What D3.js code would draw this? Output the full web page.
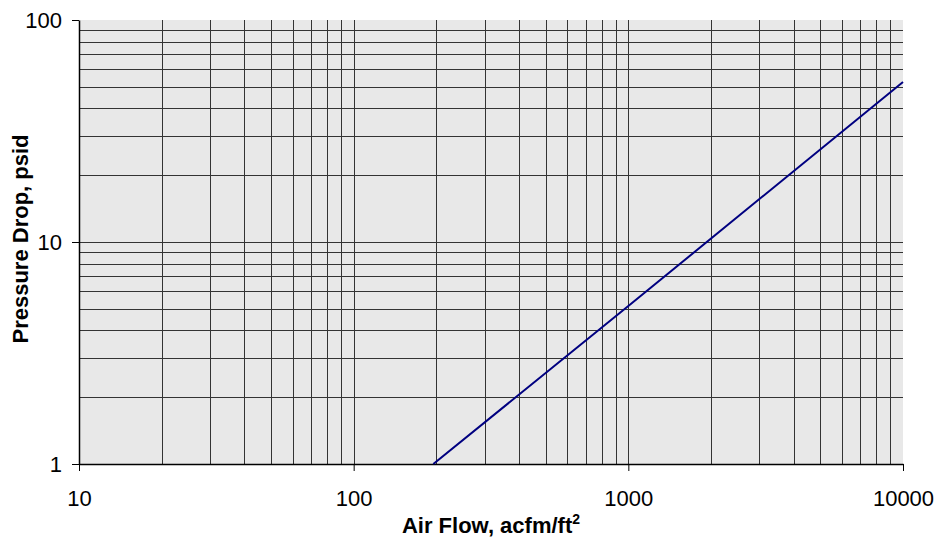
<!DOCTYPE html>
<html>
<head>
<meta charset="utf-8">
<script src="https://cdn.jsdelivr.net/npm/d3@7"></script>
<style>
  body { margin: 0; background: #fff; }
  text { font-family: "Liberation Sans", Arial, sans-serif; }
</style>
</head>
<body>
<svg width="936" height="538"></svg>
<script>
  // air flow (acfm/ft2) vs pressure drop (psid)
  const flowValues = [195, 1000, 10000];
  const dropValues = [1, 5.15, 52.6];
  const xTicks = [10, 100, 1000, 10000];
  const yTicks = [1, 10, 100];

  const data = flowValues.map((f, i) => ({ flow: f, drop: dropValues[i] }));

  const svg = d3.select('svg');
  const margin = { top: 20, right: 33, bottom: 74, left: 79 };
  const width = +svg.attr('width');
  const height = +svg.attr('height');
  const innerWidth = width - margin.left - margin.right;
  const innerHeight = height - margin.top - margin.bottom;

  const xScale = d3.scaleLog().domain([10, 10000]).range([0, innerWidth]);
  const yScale = d3.scaleLog().domain([1, 100]).range([innerHeight, 0]);

  const g = svg.append('g')
    .attr('transform', `translate(${margin.left},${margin.top})`);

  g.append('rect')
    .attr('width', innerWidth)
    .attr('height', innerHeight)
    .attr('fill', '#e8e8e8');

  // grid lines at every 1..9 step of each decade
  const xGrid = xScale.ticks().filter(d => d > 10 && d < 10000);
  const yGrid = yScale.ticks().filter(d => d > 1 && d < 100);

  g.selectAll('.vgrid').data(xGrid)
    .enter().append('line')
      .attr('class', 'vgrid')
      .attr('x1', d => Math.round(xScale(d)) + 0.5)
      .attr('x2', d => Math.round(xScale(d)) + 0.5)
      .attr('y1', 0)
      .attr('y2', innerHeight)
      .attr('stroke', '#333')
      .attr('stroke-width', 1);

  g.selectAll('.hgrid').data(yGrid)
    .enter().append('line')
      .attr('class', 'hgrid')
      .attr('y1', d => Math.round(yScale(d)) + 0.5)
      .attr('y2', d => Math.round(yScale(d)) + 0.5)
      .attr('x1', 0)
      .attr('x2', innerWidth)
      .attr('stroke', '#333')
      .attr('stroke-width', 1);

  const xAxis = d3.axisBottom(xScale)
    .tickValues(xTicks)
    .tickFormat(d3.format('d'))
    .tickSizeInner(7)
    .tickSizeOuter(0)
    .tickPadding(19);

  const yAxis = d3.axisLeft(yScale)
    .tickValues(yTicks)
    .tickFormat(d3.format('d'))
    .tickSizeInner(7)
    .tickSizeOuter(0)
    .tickPadding(10);

  const xAxisG = g.append('g')
    .attr('transform', `translate(0,${innerHeight})`)
    .call(xAxis);
  const yAxisG = g.append('g').call(yAxis);

  [xAxisG, yAxisG].forEach(a => {
    a.selectAll('.domain').attr('stroke', '#000').attr('stroke-width', 1.5);
    a.selectAll('.tick line').attr('stroke', '#000');
    a.selectAll('.tick text')
      .attr('fill', '#000')
      .style('font-size', '22px');
  });

  const line = d3.line()
    .x(d => xScale(d.flow))
    .y(d => yScale(d.drop));

  g.append('path')
    .datum(data)
    .attr('d', line)
    .attr('fill', 'none')
    .attr('stroke', '#000080')
    .attr('stroke-width', 2);

  // axis titles
  const xLabel = svg.append('text')
    .attr('x', 491)
    .attr('y', 533)
    .attr('text-anchor', 'middle')
    .style('font-size', '22px')
    .style('font-weight', 'bold')
    .text('Air Flow, acfm/ft');
  xLabel.append('tspan')
    .attr('dy', -9)
    .style('font-size', '14px')
    .text('2');

  svg.append('text')
    .attr('transform', 'translate(28,239) rotate(-90)')
    .attr('text-anchor', 'middle')
    .style('font-size', '22px')
    .style('font-weight', 'bold')
    .text('Pressure Drop, psid');
</script>
</body>
</html>
